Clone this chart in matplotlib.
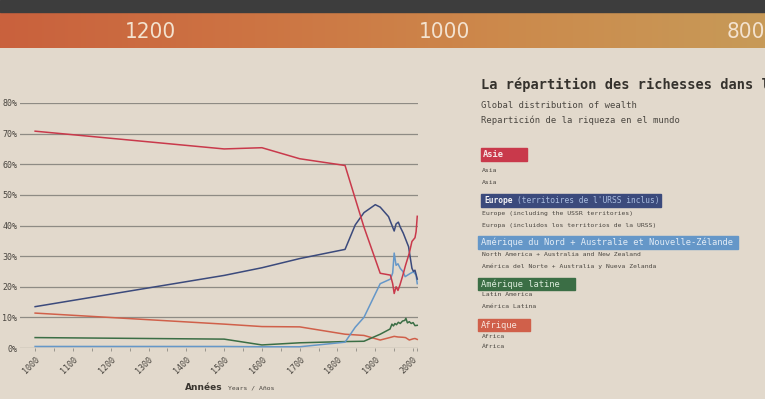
import numpy as np
import matplotlib.pyplot as plt
from matplotlib.colors import LinearSegmentedColormap
from matplotlib.patches import Rectangle

W, H = 765, 399

# --- data (share of world GDP, %) ---
asia_years = [1000, 1500, 1600, 1700, 1820, 1870, 1913, 1940, 1946, 1950, 1955, 1960, 1965, 1973, 1980, 1990, 1997, 2005, 2008, 2011]
asia_share = [70.8, 65.0, 65.4, 61.8, 59.6, 39.5, 24.4, 23.8, 21.0, 17.8, 20.0, 18.8, 20.5, 23.8, 27.0, 31.0, 34.8, 36.0, 38.0, 43.0]

europe_years = [1000, 1500, 1600, 1700, 1820, 1847, 1870, 1900, 1913, 1935, 1950, 1955, 1961, 1966, 1974, 1988, 1997, 2001, 2005, 2011]
europe_share = [13.5, 23.7, 26.2, 29.2, 32.2, 40.2, 44.2, 46.8, 46.0, 42.9, 38.2, 40.5, 41.1, 39.5, 37.5, 33.1, 26.0, 25.0, 25.4, 22.5]

namerica_years = [1000, 1500, 1600, 1700, 1820, 1847, 1870, 1913, 1940, 1946, 1950, 1955, 1960, 1966, 1973, 1979, 1992, 2001, 2008, 2011]
namerica_share = [0.5, 0.5, 0.4, 0.4, 1.9, 6.8, 10.0, 21.0, 22.5, 24.5, 31.0, 27.0, 27.5, 26.0, 25.0, 23.3, 24.3, 24.9, 23.8, 21.0]

latam_years = [1000, 1500, 1600, 1700, 1820, 1870, 1913, 1939, 1944, 1948, 1952, 1956, 1961, 1966, 1972, 1978, 1981, 1985, 1990, 1995, 2000, 2005, 2011]
latam_share = [3.4, 2.9, 1.0, 1.7, 2.1, 2.2, 4.5, 6.2, 7.8, 7.2, 8.0, 7.6, 8.4, 8.0, 8.8, 9.0, 9.7, 8.2, 8.6, 8.0, 8.3, 7.3, 7.4]

africa_years = [1000, 1500, 1600, 1700, 1820, 1870, 1913, 1935, 1950, 1960, 1973, 1980, 1990, 2000, 2005, 2011]
africa_share = [11.4, 7.8, 7.0, 6.9, 4.5, 4.1, 2.6, 3.3, 3.8, 3.6, 3.5, 3.4, 2.6, 3.0, 3.1, 2.8]

grid_levels = [0, 10, 20, 30, 40, 50, 60, 70, 80]
century_ticks = list(range(1000, 2001, 100))
band_labels = ['1200', '1000', '800']

BG = '#e2d9cc'
MONO = 'DejaVu Sans Mono'
C_ASIA, C_EUR, C_NAM, C_LAT, C_AFR = '#c9394b', '#3b4a7c', '#6597c8', '#3b6e45', '#d0604a'


def fx(x):
    return x / W


def fy(y):
    return 1 - y / H


fig = plt.figure(figsize=(W / 100, H / 100), dpi=100)
fig.patch.set_facecolor(BG)

# dark strip + orange timeline band on top
fig.patches.append(Rectangle((0, fy(12)), 1, 12 / H, transform=fig.transFigure,
                             color='#3d3d3d', zorder=0))
band = fig.add_axes([0, fy(48), 1, 36 / H])
cmap = LinearSegmentedColormap.from_list('band', ['#c9613d', '#cd7443', '#cc8a4c', '#c79a58'])
band.imshow(np.linspace(0, 1, 256)[None, :], aspect='auto', cmap=cmap, extent=[0, W, 0, 1])
band.set_xlim(0, W)
band.set_ylim(0, 1)
band.axis('off')
for lab, x, ha in zip(band_labels, [150, 445, 727], ['center', 'center', 'left']):
    band.text(x, 0.45, lab, ha=ha, va='center', color='#f3e2cf', fontsize=16,
              family='DejaVu Sans', fontstretch='condensed')

# --- chart ---
ax = fig.add_axes([fx(20), fy(348), (418 - 20) / W, (348 - 103) / H])
ax.set_facecolor('none')
for s in ax.spines.values():
    s.set_visible(False)

ax.plot(africa_years, africa_share, color=C_AFR, lw=1.1, clip_on=False)
ax.plot(latam_years, latam_share, color=C_LAT, lw=1.1, clip_on=False)
ax.plot(namerica_years, namerica_share, color=C_NAM, lw=1.1, clip_on=False)
ax.plot(europe_years, europe_share, color=C_EUR, lw=1.1, clip_on=False)
ax.plot(asia_years, asia_share, color=C_ASIA, lw=1.1, clip_on=False)

ax.set_xlim(960, 2013)
ax.set_ylim(0, 80)
ax.set_yticks(grid_levels)
ax.set_yticklabels([f'{v}%' for v in grid_levels], family=MONO, fontsize=6, color='#4a4640')
ax.yaxis.grid(True, color='#8e8b84', lw=0.9)
ax.tick_params(axis='y', length=0, pad=2)

ax.set_xticks(century_ticks)
ax.set_xticks([t + 50 for t in century_ticks[:-1]] + [2010], minor=True)
ax.set_xticklabels([str(t) for t in century_ticks], family=MONO, fontsize=6, color='#4a4640')
ax.tick_params(axis='x', which='both', direction='out', length=2, width=0.6, color='#8e8b84', pad=3)
for lab in ax.get_xticklabels():
    lab.set_rotation(45)
    lab.set_ha('right')
    lab.set_va('top')
    lab.set_rotation_mode('anchor')

fig.text(fx(185), fy(387), 'Années', family='DejaVu Sans', fontsize=6.5, weight='bold',
         color='#3a3630', va='center')
fig.text(fx(228), fy(387.5), 'Years / Años', family=MONO, fontsize=4.6, color='#4a4640', va='center')

# --- title block (cut by the right edge, as in the photo) ---
fig.text(fx(481), fy(85), 'La répartition des richesses dans le', family=MONO,
         fontsize=9.8, weight='bold', color='#35322d', va='center')
fig.text(fx(481), fy(106), 'Global distribution of wealth', family=MONO, fontsize=6.4,
         color='#4a4640', va='center')
fig.text(fx(481), fy(120), 'Repartición de la riqueza en el mundo', family=MONO, fontsize=6.4,
         color='#4a4640', va='center')


def box(x0, y0, x1, y1, color):
    fig.patches.append(Rectangle((fx(x0), fy(y1)), (x1 - x0) / W, (y1 - y0) / H,
                                 transform=fig.transFigure, color=color, zorder=0))


def sub(y, s):
    fig.text(fx(482), fy(y), s, family=MONO, fontsize=4.6, color='#4a4640', va='center')


box(481, 148, 527, 161, C_ASIA)
fig.text(fx(483), fy(154.5), 'Asie', family=MONO, fontsize=6.3, weight='bold', color='#f6e6e6', va='center')
sub(170, 'Asia')
sub(182, 'Asia')

box(481, 194, 661, 207, C_EUR)
fig.text(fx(484), fy(200.5), 'Europe', family=MONO, fontsize=5.7, weight='bold', color='#f3f3f6', va='center')
fig.text(fx(484 + 7 * 4.77), fy(200.5), "(territoires de l'URSS inclus)", family=MONO, fontsize=5.7,
         color='#a9bde0', va='center')
sub(213, 'Europe (including the USSR territories)')
sub(225, 'Europa (incluidos los territorios de la URSS)')

box(478, 236, 738, 249, C_NAM)
fig.text(fx(481), fy(242.5), 'Amérique du Nord + Australie et Nouvelle-Zélande', family=MONO,
         fontsize=6.3, color='#e2ecf6', va='center')
sub(254, 'North America + Australia and New Zealand')
sub(266, 'América del Norte + Australia y Nueva Zelanda')

box(478, 278, 575, 290, C_LAT)
fig.text(fx(481), fy(284), 'Amérique latine', family=MONO, fontsize=6.3, color='#dcecdc', va='center')
sub(295, 'Latin America')
sub(307, 'América Latina')

box(478, 319, 530, 331, C_AFR)
fig.text(fx(481), fy(325), 'Afrique', family=MONO, fontsize=6.3, color='#f8e4dc', va='center')
sub(336, 'Africa')
sub(347, 'África')

fig.savefig('out.png', dpi=100, facecolor=fig.get_facecolor())
